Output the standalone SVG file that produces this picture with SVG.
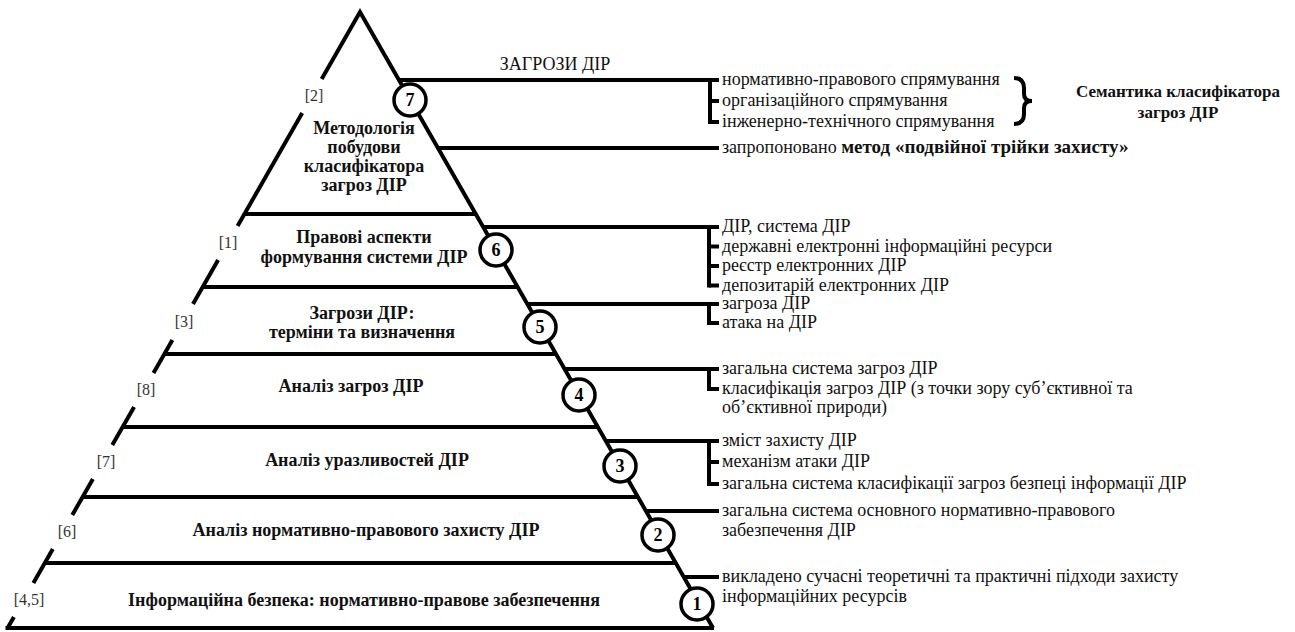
<svg xmlns="http://www.w3.org/2000/svg" width="1295" height="632" viewBox="0 0 1295 632">
<style>
.ln{stroke:#000;stroke-width:4;fill:none;stroke-linecap:butt;stroke-linejoin:miter}
.t{font-family:'Liberation Serif','DejaVu Serif',serif;font-size:18px;fill:#111}
.b{font-family:'Liberation Serif','DejaVu Serif',serif;font-size:18px;font-weight:bold;fill:#111;text-anchor:middle}
.s{font-family:'Liberation Serif','DejaVu Serif',serif;font-size:17px;font-weight:bold;fill:#111;text-anchor:middle}
.ref{font-family:'Liberation Serif','DejaVu Serif',serif;font-size:16px;fill:#333;text-anchor:middle}
.c{fill:#fff;stroke:#000;stroke-width:3.5}
.n{font-family:'Liberation Serif','DejaVu Serif',serif;font-size:18px;font-weight:bold;text-anchor:middle;fill:#000}
</style>
<rect width="1295" height="632" fill="#fff"/>
<g id="pyramid">
  <polyline class="ln" points="321.7,79 360,12 713,628"/>
  <line class="ln" x1="302.2" y1="113" x2="237.6" y2="226"/>
  <line class="ln" x1="218.1" y1="260" x2="193" y2="304"/>
  <line class="ln" x1="172.4" y1="340" x2="153.5" y2="373"/>
  <line class="ln" x1="134.1" y1="407" x2="112.3" y2="445"/>
  <line class="ln" x1="92.9" y1="479" x2="72.3" y2="515"/>
  <line class="ln" x1="52.8" y1="549" x2="33.4" y2="583"/>
  <line class="ln" x1="13.9" y1="617" x2="7.6" y2="628"/>
  <line class="ln" x1="244.5" y1="214" x2="475.7" y2="214"/>
  <line class="ln" x1="202.7" y1="287" x2="517.6" y2="287"/>
  <line class="ln" x1="164.4" y1="354" x2="556" y2="354"/>
  <line class="ln" x1="122.6" y1="427" x2="597.8" y2="427"/>
  <line class="ln" x1="82.6" y1="497" x2="637.9" y2="497"/>
  <line class="ln" x1="44.8" y1="563" x2="675.7" y2="563"/>
  <line class="ln" x1="5.5" y1="628" x2="714" y2="628"/>
</g>
<g id="connectors">
  <line class="ln" x1="399" y1="80" x2="719" y2="80"/>
  <line class="ln" x1="710" y1="78" x2="710" y2="124"/>
  <line class="ln" x1="710" y1="101" x2="719" y2="101"/>
  <line class="ln" x1="710" y1="122" x2="719" y2="122"/>
  <line class="ln" x1="437.9" y1="148" x2="719" y2="148"/>
  <line class="ln" x1="483.2" y1="227" x2="719" y2="227"/>
  <line class="ln" x1="709" y1="225" x2="709" y2="287.5"/>
  <line class="ln" x1="709" y1="246.5" x2="719" y2="246.5"/>
  <line class="ln" x1="709" y1="266" x2="719" y2="266"/>
  <line class="ln" x1="709" y1="285.5" x2="719" y2="285.5"/>
  <line class="ln" x1="527.3" y1="304" x2="719" y2="304"/>
  <line class="ln" x1="709" y1="302" x2="709" y2="325"/>
  <line class="ln" x1="709" y1="323" x2="719" y2="323"/>
  <line class="ln" x1="564.6" y1="369" x2="719" y2="369"/>
  <line class="ln" x1="709" y1="367" x2="709" y2="391"/>
  <line class="ln" x1="709" y1="389" x2="719" y2="389"/>
  <line class="ln" x1="605.8" y1="441" x2="719" y2="441"/>
  <line class="ln" x1="709" y1="439" x2="709" y2="486"/>
  <line class="ln" x1="709" y1="462" x2="719" y2="462"/>
  <line class="ln" x1="709" y1="484" x2="719" y2="484"/>
  <line class="ln" x1="646" y1="511" x2="719" y2="511"/>
  <line class="ln" x1="683.7" y1="577" x2="719" y2="577"/>
  <path class="ln" d="M1014,78 Q1024,78 1024,88 L1024,94 Q1024,101 1032,101 Q1024,101 1024,108 L1024,114 Q1024,124 1014,124"/>
</g>
<g id="refs">
  <text class="ref" x="314" y="101">[2]</text>
  <text class="ref" x="228" y="248">[1]</text>
  <text class="ref" x="184" y="327">[3]</text>
  <text class="ref" x="146" y="395">[8]</text>
  <text class="ref" x="106" y="467">[7]</text>
  <text class="ref" x="67" y="537">[6]</text>
  <text class="ref" x="29" y="605">[4,5]</text>
</g>
<g id="level7">
  <text class="b" x="364" y="134">Методологія</text>
  <text class="b" x="364" y="153">побудови</text>
  <text class="b" x="364" y="172">класифікатора</text>
  <text class="b" x="364" y="191">загроз ДІР</text>
  <circle class="c" cx="410" cy="100" r="16"/>
  <text class="n" x="410" y="106">7</text>
</g>
<g id="level6">
  <text class="b" x="364" y="243">Правові аспекти</text>
  <text class="b" x="364" y="263">формування системи ДІР</text>
  <circle class="c" cx="496" cy="250" r="16"/>
  <text class="n" x="496" y="256">6</text>
</g>
<g id="level5">
  <text class="b" x="362" y="319">Загрози ДІР:</text>
  <text class="b" x="362" y="338">терміни та визначення</text>
  <circle class="c" cx="540" cy="327" r="16"/>
  <text class="n" x="540" y="333">5</text>
</g>
<g id="level4">
  <text class="b" x="351" y="392">Аналіз загроз ДІР</text>
  <circle class="c" cx="579" cy="395" r="16"/>
  <text class="n" x="579" y="401">4</text>
</g>
<g id="level3">
  <text class="b" x="367" y="466">Аналіз уразливостей ДІР</text>
  <circle class="c" cx="620" cy="466" r="16"/>
  <text class="n" x="620" y="472">3</text>
</g>
<g id="level2">
  <text class="b" x="366" y="536">Аналіз нормативно-правового захисту ДІР</text>
  <circle class="c" cx="658" cy="535" r="16"/>
  <text class="n" x="658" y="541">2</text>
</g>
<g id="level1">
  <text class="b" x="364" y="606">Інформаційна безпека: нормативно-правове забезпечення</text>
  <circle class="c" cx="697" cy="604" r="16"/>
  <text class="n" x="697" y="610">1</text>
</g>
<g id="threats">
  <text class="t" x="555" y="70" text-anchor="middle">ЗАГРОЗИ ДІР</text>
  <text class="t" x="722" y="85">нормативно-правового спрямування</text>
  <text class="t" x="722" y="106">організаційного спрямування</text>
  <text class="t" x="722" y="127">інженерно-технічного спрямування</text>
  <text class="t" x="722" y="153">запропоновано <tspan font-weight="bold" font-size="19px">метод «подвійної трійки захисту»</tspan></text>
</g>
<g id="semantics">
  <text class="s" x="1178" y="97">Семантика класифікатора</text>
  <text class="s" x="1178" y="118">загроз ДІР</text>
</g>
<g id="notes6">
  <text class="t" x="722" y="232">ДІР, система ДІР</text>
  <text class="t" x="722" y="251.5">державні електронні інформаційні ресурси</text>
  <text class="t" x="722" y="271">реєстр електронних ДІР</text>
  <text class="t" x="722" y="290.5">депозитарій електронних ДІР</text>
</g>
<g id="notes5">
  <text class="t" x="722" y="309">загроза ДІР</text>
  <text class="t" x="722" y="328">атака на ДІР</text>
</g>
<g id="notes4">
  <text class="t" x="722" y="374">загальна система загроз ДІР</text>
  <text class="t" x="722" y="394">класифікація загроз ДІР (з точки зору суб’єктивної та</text>
  <text class="t" x="722" y="413">об’єктивної природи)</text>
</g>
<g id="notes3">
  <text class="t" x="722" y="446">зміст захисту ДІР</text>
  <text class="t" x="722" y="467">механізм атаки ДІР</text>
  <text class="t" x="722" y="489">загальна система класифікації загроз безпеці інформації ДІР</text>
</g>
<g id="notes2">
  <text class="t" x="722" y="516">загальна система основного нормативно-правового</text>
  <text class="t" x="722" y="536">забезпечення ДІР</text>
</g>
<g id="notes1">
  <text class="t" x="722" y="582">викладено сучасні теоретичні та практичні підходи захисту</text>
  <text class="t" x="722" y="602">інформаційних ресурсів</text>
</g>
</svg>
